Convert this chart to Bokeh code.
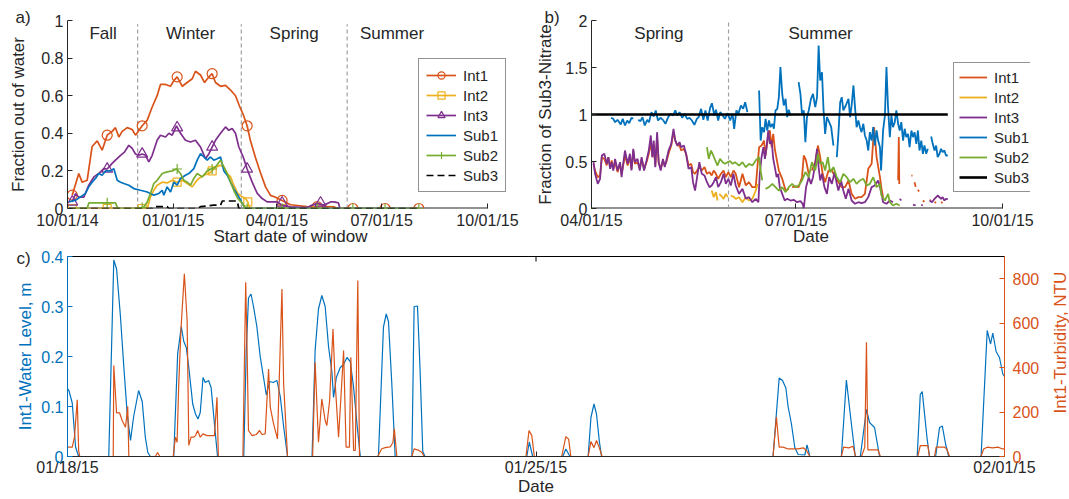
import math
import numpy as np
import pandas as pd
from bokeh.plotting import figure
from bokeh.models import (Range1d, LinearAxis, FixedTicker,
                          DatetimeTickFormatter, Legend, LegendItem, Label)
from bokeh.layouts import column, row
from bokeh.embed import file_html
from bokeh.resources import INLINE

NaN = float("nan")
FONT = "Liberation Sans"
TXT = "#262626"
C_INT1, C_INT2, C_INT3 = "#D95319", "#EDB120", "#7E2F8E"
C_SUB1, C_SUB2, C_SUB3 = "#0072BD", "#77AC30", "#000000"

# ---------------- Panel a: (days since 2014-10-01, fraction out of water)
a_int1 = [(4.1, 0.071), (9.8, 0.186), (12.7, 0.14), (17.1, 0.15), (21.4, 0.33), (25.8, 0.36), (30.1, 0.31),
          (34.5, 0.39), (38.8, 0.41), (41.7, 0.43), (44.6, 0.38), (47.5, 0.41), (51.9, 0.43), (56.2, 0.42),
          (59.1, 0.39), (64.9, 0.44), (69.3, 0.47), (73.6, 0.54), (77.9, 0.60), (80.8, 0.66), (85.2, 0.66),
          (89.5, 0.65), (92.4, 0.68), (95.3, 0.70), (99.7, 0.65), (104.0, 0.67), (108.4, 0.69), (111.2, 0.73),
          (115.6, 0.71), (119.1, 0.67), (122.8, 0.70), (125.7, 0.717), (128.6, 0.67), (133.0, 0.65),
          (137.3, 0.655), (141.7, 0.63), (146.0, 0.60), (149.8, 0.54), (152.7, 0.50), (156.1, 0.44),
          (159.0, 0.36), (163.4, 0.27), (167.7, 0.19), (172.1, 0.115), (176.4, 0.07), (180.8, 0.06),
          (186.5, 0.043), (193.8, 0.02), (199.6, 0.016), (208.0, 0.01), (214.1, 0.008), (219.9, 0.012),
          (231.5, 0.009), (234.3, 0.0), (305.3, 0.0)]
a_int1_mk = [(4.1, 0.071), (34.5, 0.39), (64.9, 0.44), (95.3, 0.70), (125.7, 0.717), (156.1, 0.44),
             (186.5, 0.043), (217.0, 0.01), (248.0, 0.0), (276.0, 0.0), (305.3, 0.0)]
a_int2 = [(4.1, 0), (69.3, 0), (72.1, 0.062), (75.0, 0.097), (77.9, 0.124), (82.3, 0.14), (86.6, 0.136),
          (91.0, 0.15), (95.3, 0.14), (99.7, 0.15), (104.0, 0.133), (108.4, 0.115), (111.2, 0.14), (114.1, 0.16),
          (118.5, 0.177), (122.8, 0.186), (125.7, 0.20), (128.6, 0.22), (133.0, 0.23), (135.9, 0.22),
          (138.8, 0.186), (141.7, 0.168), (144.5, 0.124), (148.0, 0.08), (151.8, 0.062), (154.7, 0.053),
          (156.7, 0.035), (158.4, 0), (217.0, 0)]
a_int2_mk = [(4.1, 0), (34.5, 0), (64.9, 0), (95.3, 0.14), (125.7, 0.20), (156.7, 0.035), (186.5, 0), (217.0, 0)]
a_int3 = [(4.1, 0.035), (7.0, 0.08), (9.8, 0.06), (14.2, 0.06), (18.5, 0.124), (22.9, 0.168), (27.2, 0.186),
          (31.5, 0.212), (34.5, 0.21), (38.8, 0.24), (41.7, 0.257), (46.1, 0.283), (49.5, 0.30), (53.3, 0.336),
          (56.2, 0.32), (59.1, 0.29), (62.0, 0.283), (64.9, 0.29), (67.8, 0.283), (70.7, 0.248), (73.6, 0.283),
          (77.9, 0.363), (80.8, 0.39), (85.2, 0.38), (88.1, 0.40), (91.0, 0.39), (94.7, 0.44), (98.2, 0.40),
          (102.5, 0.363), (106.9, 0.354), (111.2, 0.363), (115.6, 0.327), (119.9, 0.265), (122.8, 0.29),
          (125.7, 0.327), (128.6, 0.363), (133.0, 0.40), (137.3, 0.434), (140.2, 0.416), (143.1, 0.425),
          (146.0, 0.40), (148.9, 0.327), (152.7, 0.274), (156.1, 0.21), (160.5, 0.14), (164.9, 0.08),
          (169.2, 0.053), (173.5, 0.035), (182.2, 0.035), (186.5, 0.018), (193.8, 0.009), (208.3, 0.005),
          (212.6, 0.018), (217.0, 0.027), (222.8, 0.018), (228.6, 0.035), (231.5, 0.035), (235.5, 0.03),
          (236.7, 0.0)]
a_int3_mk = [(4.1, 0.035), (34.5, 0.21), (64.9, 0.29), (95.3, 0.43), (125.7, 0.327), (156.1, 0.21),
             (186.5, 0.03), (219.9, 0.03)]
a_sub1 = [(1.2, 0.035), (7.0, 0.044), (11.3, 0.062), (15.6, 0.08), (18.5, 0.115), (21.4, 0.14), (24.3, 0.16),
          (27.2, 0.186), (30.1, 0.177), (33.0, 0.20), (37.4, 0.20), (40.3, 0.212), (43.2, 0.15), (46.1, 0.14),
          (49.0, 0.133), (53.3, 0.124), (57.6, 0.106), (63.4, 0.097), (69.3, 0.088), (75.0, 0.071), (79.4, 0.08),
          (82.3, 0.097), (83.7, 0.071), (86.6, 0.115), (89.5, 0.088), (92.4, 0.14), (95.3, 0.124), (98.2, 0.16),
          (102.5, 0.177), (105.4, 0.186), (109.8, 0.212), (112.7, 0.257), (115.6, 0.292), (118.5, 0.274),
          (121.4, 0.257), (124.3, 0.274), (127.1, 0.257), (130.1, 0.265), (133.0, 0.274), (135.9, 0.20),
          (138.8, 0.177), (141.7, 0.14), (144.5, 0.106), (148.9, 0.062), (151.8, 0.027), (154.7, 0.0),
          (305.3, 0.0)]
a_sub2 = [(1.2, 0), (17.1, 0), (18.5, 0.03), (41.7, 0.03), (43.7, 0), (63.4, 0), (66.3, 0.009), (69.3, 0.035),
          (72.1, 0.08), (75.0, 0.133), (77.9, 0.15), (82.3, 0.186), (86.6, 0.195), (91.0, 0.20), (94.7, 0.21),
          (98.2, 0.186), (101.1, 0.15), (104.0, 0.14), (106.9, 0.124), (109.8, 0.16), (112.7, 0.186),
          (117.1, 0.168), (121.4, 0.20), (124.9, 0.21), (128.6, 0.221), (133.0, 0.257), (135.9, 0.221),
          (138.8, 0.186), (141.7, 0.14), (144.5, 0.097), (148.0, 0.053), (151.8, 0.027), (154.7, 0), (305.3, 0)]
a_sub2_mk = [(34.5, 0.03), (64.9, 0.005), (95.3, 0.21), (125.7, 0.21), (156.1, 0), (186.5, 0), (217.0, 0),
             (248.0, 0), (276.0, 0), (305.3, 0)]
a_sub3 = [(1.2, 0), (73.6, 0), (75.0, 0.01), (86.6, 0.01), (88.1, 0), (113.0, 0), (115.6, 0.01), (127.1, 0.018),
          (133.0, 0.018), (134.5, 0.04), (147.5, 0.04), (148.9, 0), (305.3, 0)]
a_seasons = ["Fall", "Winter", "Spring", "Summer"]
a_season_mid = ["2014-11-01", "2015-01-16", "2015-04-16", "2015-07-10"]
a_season_bounds = ["2014-12-01", "2015-03-01", "2015-06-01"]
a_xticks = ["2014-10-01", "2015-01-01", "2015-04-01", "2015-07-01", "2015-10-01"]
a_yticks = [0, 0.2, 0.4, 0.6, 0.8, 1]
a_ylabels = ["0", "0.2", "0.4", "0.6", "0.8", "1"]
a_view_end = "2015-10-23 14:00"      # room on the right for the legend

# ---------------- Panel b: (days since 2015-04-01, fraction of Sub3 nitrate)
b_int1 = [(0.9, 0.475), (1.6, 0.40), (2.8, 0.333), (3.8, 0.351), (4.6, 0.546), (5.7, 0.528), (6.8, 0.458),
          (7.5, 0.546), (8.3, 0.44), (9.0, 0.511), (9.7, 0.422), (10.5, 0.493), (11.6, 0.387), (12.7, 0.475),
          (13.4, 0.369), (14.1, 0.458), (14.9, 0.564), (16.1, 0.458), (17.1, 0.546), (17.8, 0.422), (18.6, 0.617),
          (19.3, 0.475), (20.5, 0.493), (21.5, 0.422), (22.3, 0.528), (23.4, 0.422), (24.5, 0.493), (25.5, 0.582),
          (26.4, 0.706), (27.1, 0.546), (27.7, 0.67), (28.4, 0.458), (29.2, 0.759), (29.9, 0.493), (30.8, 0.422),
          (31.8, 0.511), (32.6, 0.458), (33.3, 0.493), (34.3, 0.582), (35.5, 0.67), (36.5, 0.812), (37.3, 0.723),
          (38.2, 0.67), (39.2, 0.67), (39.9, 0.617), (41.1, 0.635), (42.1, 0.582), (43.2, 0.458), (44.4, 0.475),
          (45.2, 0.387), (46.1, 0.369), (47.0, 0.404), (48.0, 0.44), (49.1, 0.404), (50.3, 0.44), (51.4, 0.369),
          (52.5, 0.387), (53.5, 0.351), (54.4, 0.404), (55.4, 0.369), (56.4, 0.316), (57.6, 0.369), (58.8, 0.404),
          (59.8, 0.333), (60.9, 0.387), (62.0, 0.333), (63.2, 0.404), (64.2, 0.369), (65.7, 0.227), (67.2, 0.369),
          (68.7, 0.245), (70.1, 0.28), (71.6, 0.227), (73.1, 0.227), (74.6, 0.652), (75.7, 0.67), (76.8, 0.723),
          (77.5, 0.564), (78.7, 0.794), (79.4, 0.83), (80.2, 0.652), (80.9, 0.794), (81.6, 0.635), (82.4, 0.528),
          (83.4, 0.404), (84.9, 0.316), (86.4, 0.191), (87.8, 0.209), (88.5, NaN), (89.3, 0.227), (90.8, 0.234),
          (92.2, 0.227), (93.7, 0.333), (94.5, 0.564), (95.5, 0.511), (96.7, 0.369), (97.4, NaN), (98.1, 0.404),
          (99.6, 0.493), (100.8, 0.67), (101.8, 0.546), (102.9, 0.369), (104.0, 0.28), (105.5, 0.404),
          (107.0, 0.404), (108.5, 0.333), (109.9, 0.28), (111.4, 0.227), (112.9, 0.227), (114.4, 0.298),
          (115.8, 0.156), (117.3, 0.103), (118.8, 0.121), (120.2, 0.121), (121.7, 0.156), (123.2, 0.422),
          (124.7, 0.475), (125.8, 0.865), (126.9, 0.546), (128.4, 0.333), (129.1, 0.209), (129.8, 0.121),
          (130.5, NaN), (136.5, 0.30), (136.8, 0.76), (137.0, 0.26), (137.3, NaN), (142.4, 0.351), (142.9, 0.35),
          (143.3, NaN), (143.8, 0.28), (144.3, 0.23), (144.8, NaN), (145.3, 0.2), (145.8, 0.18), (146.3, NaN),
          (147.5, 0.085), (148.2, 0.07), (148.7, NaN), (150.5, 0.085), (151.2, 0.09), (151.7, NaN),
          (152.7, 0.06), (153.4, 0.07), (154.0, NaN), (155.6, 0.06), (156.3, 0.07)]
b_int2 = [(53.5, 0.191), (54.4, 0.121), (55.4, 0.174), (56.1, 0.085), (56.5, NaN), (56.9, 0.156), (57.6, 0.138),
          (58.8, 0.103), (59.8, 0.156), (60.6, 0.121), (61.2, NaN), (62.0, 0.138), (63.5, 0.121), (64.2, 0.103),
          (65.7, 0.12), (67.2, 0.067), (68.7, 0.12), (70.1, 0.085), (71.6, 0.103), (73.1, 0.191), (74.0, 0.262)]
b_int3 = [(0.9, 0.493), (1.6, 0.369), (2.8, 0.262), (3.8, 0.316), (4.6, 0.564), (5.7, 0.582), (6.8, 0.475),
          (7.5, 0.546), (8.3, 0.422), (9.0, 0.493), (9.7, 0.404), (10.5, 0.528), (11.6, 0.404), (12.7, 0.493),
          (13.4, 0.333), (14.1, 0.475), (14.9, 0.617), (16.1, 0.475), (17.1, 0.582), (17.8, 0.404), (18.6, 0.635),
          (19.3, 0.493), (20.5, 0.528), (21.5, 0.404), (22.3, 0.546), (23.4, 0.404), (24.5, 0.511), (25.5, 0.617),
          (26.4, 0.777), (27.1, 0.546), (27.7, 0.723), (28.4, 0.44), (29.2, 0.812), (29.9, 0.493), (30.8, 0.404),
          (31.8, 0.528), (32.6, 0.44), (33.3, 0.511), (34.3, 0.617), (35.5, 0.688), (36.5, 0.848), (37.3, 0.723),
          (38.2, 0.67), (39.2, 0.706), (39.9, 0.652), (41.1, 0.67), (42.1, 0.582), (43.2, 0.422), (44.4, 0.44),
          (45.2, 0.28), (46.1, 0.191), (47.0, 0.333), (48.0, 0.493), (49.1, 0.369), (50.3, 0.351), (51.4, 0.28),
          (52.5, 0.227), (53.5, 0.245), (54.4, 0.28), (55.4, 0.333), (56.4, 0.227), (57.6, 0.28), (58.8, 0.369),
          (59.8, 0.262), (60.9, 0.316), (62.0, 0.245), (63.2, 0.369), (64.2, 0.245), (65.7, 0.156), (67.2, 0.209),
          (68.7, 0.103), (70.1, 0.121), (71.6, 0.067), (73.1, 0.103), (74.3, 0.067), (74.9, 0.369), (75.7, 0.546),
          (76.5, 0.652), (77.2, 0.528), (78.0, 0.67), (78.7, 0.83), (79.4, 0.688), (80.2, 0.723), (80.9, 0.528),
          (81.6, 0.44), (82.4, 0.333), (83.1, 0.369), (83.8, 0.227), (84.9, 0.156), (86.0, 0.085), (87.1, 0.103),
          (88.6, 0.085), (90.0, 0.092), (91.5, 0.067), (93.0, 0.078), (94.0, 0.05), (94.5, 0.0), (95.5, 0.227),
          (96.7, 0.333), (97.7, 0.262), (98.6, 0.333), (99.6, 0.475), (100.4, 0.635), (101.1, 0.44),
          (101.8, 0.298), (102.6, 0.369), (103.7, 0.227), (104.8, 0.156), (105.8, 0.333), (107.0, 0.262),
          (108.2, 0.387), (109.2, 0.262), (109.9, 0.191), (111.1, 0.298), (112.1, 0.191), (113.2, 0.103),
          (114.4, 0.209), (115.8, 0.085), (117.3, 0.05), (118.8, 0.067), (120.2, 0.057), (121.7, 0.067),
          (123.2, 0.121), (124.7, 0.227), (126.1, 0.245), (127.6, 0.298), (128.4, 0.227), (129.1, 0.156),
          (129.8, 0.067), (131.3, 0.05), (132.8, 0.085), (134.2, 0.067), (135.5, NaN), (137.2, 0.103),
          (137.9, 0.085), (140.0, NaN), (143.1, 0.04), (144.3, 0.032), (145.5, NaN), (146.8, 0.04), (147.5, 0.032),
          (149.0, NaN), (150.5, 0.085), (151.6, 0.067), (152.7, 0.103), (154.1, 0.138), (154.9, 0.12),
          (155.6, 0.103), (156.3, 0.12), (157.1, 0.085), (157.8, 0.103), (158.6, 0.1)]
b_sub1 = [(8.7, 0.965), (9.7, 0.954), (10.5, 0.918), (11.6, 0.943), (13.0, 0.894), (13.9, 0.954), (14.9, 0.883),
          (15.9, 0.936), (16.8, 0.908), (17.8, 0.965), (18.6, 0.954), (19.7, NaN), (20.8, 0.943), (21.8, 0.929),
          (22.7, 0.972), (23.7, 0.883), (24.8, 0.943), (25.6, 0.918), (26.7, 1.025), (27.7, 0.979), (28.6, 1.043),
          (29.6, 0.936), (30.7, 0.965), (31.8, 0.943), (32.9, 0.901), (34.0, 0.965), (35.1, 1.007), (36.3, 0.989),
          (37.3, 1.043), (38.2, 0.989), (39.2, 1.025), (40.4, 0.965), (41.4, 1.007), (42.6, 0.954), (43.6, 0.965),
          (44.7, 0.936), (45.8, 0.890), (46.9, 0.954), (47.7, 0.972), (48.8, 1.06), (49.8, 0.943), (50.7, 1.043),
          (51.7, 0.936), (52.8, 1.071), (53.6, 1.12), (54.7, 0.989), (55.4, 1.05), (56.4, 0.936), (57.3, 1.025),
          (58.4, 0.989), (59.4, 0.954), (60.6, 1.014), (61.7, 0.936), (62.8, 1.007), (63.5, 0.848), (64.5, 1.043),
          (65.4, 1.007), (66.5, 1.096), (67.5, 1.06), (68.4, 1.131), (69.4, 1.025), (72.0, NaN), (74.6, 1.255),
          (75.3, 0.723), (76.0, 0.865), (76.8, 0.812), (77.5, 0.954), (78.2, 0.83), (79.0, 0.936), (79.7, 0.865),
          (80.5, 0.901), (81.2, 0.848), (81.9, 1.043), (82.7, 1.06), (83.4, 1.184), (84.1, 1.504), (84.9, 1.22),
          (85.6, 1.096), (86.4, 1.167), (87.1, 0.972), (87.8, 1.05), (88.6, 0.989), (90.4, NaN), (92.2, 1.344),
          (93.0, 1.22), (93.7, 1.007), (94.5, 1.043), (95.2, 0.705), (95.9, 0.972), (96.7, 1.043), (97.7, 1.167),
          (98.6, 1.22), (99.6, 1.078), (100.4, 1.184), (101.1, 1.734), (101.8, 1.362), (102.6, 1.45),
          (103.3, 1.043), (104.0, 0.794), (104.8, 0.972), (105.8, 0.918), (106.7, 0.865), (107.7, 0.67),
          (108.5, NaN), (109.2, 0.546), (109.9, 0.794), (110.7, 1.131), (111.4, 1.184), (112.1, 1.043),
          (113.2, 1.096), (114.4, 1.167), (115.1, 0.972), (115.8, 1.096), (116.6, 1.309), (117.3, 1.078),
          (118.0, 0.865), (118.8, 0.936), (119.5, 0.865), (120.2, 0.812), (121.0, 0.901), (121.7, 0.777),
          (122.5, 0.723), (123.2, 0.617), (123.9, 0.812), (124.7, 0.723), (125.4, 0.865), (126.1, 0.670),
          (126.9, 0.83), (127.6, 0.723), (128.4, 0.652), (128.9, 0.404), (129.8, 0.83), (130.6, 0.989),
          (131.3, 1.504), (132.0, 1.078), (132.8, 0.759), (133.5, 0.989), (134.2, 0.865), (135.0, 0.918),
          (135.7, 1.043), (136.5, 0.901), (137.2, 0.83), (137.9, 0.918), (138.7, 0.723), (139.4, 0.848),
          (140.1, 0.759), (140.9, 0.794), (141.6, 0.652), (142.4, 0.83), (143.1, 0.759), (143.8, 0.812),
          (144.6, 0.688), (145.3, 0.83), (146.0, 0.617), (146.8, 0.723), (147.5, 0.582), (148.2, 0.67),
          (149.0, 0.582), (149.7, 0.635), (150.5, NaN), (151.2, 0.766), (151.9, 0.688), (152.7, 0.617),
          (153.4, 0.67), (154.1, 0.546), (154.9, 0.582), (155.6, 0.635), (156.3, 0.6), (157.1, 0.617),
          (157.8, 0.564), (158.6, 0.564)]
b_sub2 = [(51.4, 0.652), (52.2, 0.528), (53.2, 0.617), (54.2, 0.564), (55.1, 0.511), (56.1, 0.457), (57.2, 0.528),
          (58.4, 0.493), (59.4, 0.475), (60.6, 0.493), (61.7, 0.504), (62.8, 0.475), (63.8, 0.493), (65.7, 0.457),
          (67.2, 0.493), (68.7, 0.44), (70.1, 0.475), (71.6, 0.457), (73.1, 0.511), (74.6, 0.546), (75.3, 0.404),
          (76.0, 0.30), (76.7, NaN), (77.5, 0.209), (79.0, 0.227), (80.5, 0.262), (81.9, 0.227), (83.4, 0.191),
          (84.9, 0.227), (86.4, 0.174), (87.8, 0.227), (89.3, 0.262), (90.8, 0.227), (92.2, 0.245), (93.7, 0.298),
          (95.2, 0.387), (96.7, 0.333), (98.1, 0.493), (99.6, 0.404), (100.8, 0.582), (101.8, 0.475),
          (102.9, 0.493), (104.0, 0.404), (105.2, 0.546), (106.2, 0.387), (107.7, 0.44), (109.2, 0.333),
          (110.7, 0.28), (112.1, 0.369), (113.6, 0.333), (115.1, 0.28), (116.6, 0.316), (118.0, 0.262),
          (119.5, 0.298), (121.0, 0.316), (122.5, 0.245), (123.9, 0.262), (125.4, 0.333), (126.9, 0.227),
          (128.4, 0.262), (129.1, 0.138), (130.6, 0.085), (132.0, 0.156), (132.8, 0.067), (134.2, 0.032),
          (135.7, 0.05), (137.2, 0.032)]
b_sub3 = [(0.0, 1.0), (158.6, 1.0)]
b_seasons = ["Spring", "Summer"]
b_season_mid = ["2015-05-01", "2015-07-12"]
b_season_bounds = ["2015-06-01"]
b_xticks = ["2015-04-01", "2015-07-01", "2015-10-01"]
b_yticks = [0, 0.5, 1, 1.5, 2]
b_ylabels = ["0", "0.5", "1", "1.5", "2"]
b_view_end = "2015-10-13 10:00"      # room on the right for the legend

# ---------------- Panel c: (hours since 2015-01-18 00:00, value)
c_level = [(0, 0.135), (0.5, 0.132), (1.7, 0.107), (2.9, 0.019), (4.0, 0),
           (14.8, 0), (16.6, 0.393), (17.6, 0.375), (19.0, 0.279), (20.2, 0.179), (21.4, 0.086), (22.6, 0.032),
           (23.7, 0.079), (25.5, 0.132), (26.8, 0.11), (27.9, 0.039), (28.8, 0.008), (29.7, 0),
           (38.1, 0), (39.5, 0.205), (40.8, 0.26), (41.7, 0.23), (42.6, 0.218), (43.5, 0.178), (44.9, 0.105),
           (45.9, 0.085), (46.8, 0.075), (47.6, 0.088), (48.6, 0.158), (49.4, 0.148), (50.6, 0.152), (51.5, 0.138),
           (52.7, 0.065), (53.8, 0),
           (63.2, 0), (64.1, 0.212), (64.9, 0.317), (65.8, 0.325), (66.7, 0.30), (67.9, 0.26), (69.1, 0.2),
           (70.3, 0.158), (71.3, 0.123), (72.5, 0.15), (73.7, 0.148), (75.1, 0.152), (76.3, 0.12), (77.5, 0.06),
           (78.9, 0),
           (87.7, 0), (88.8, 0.212), (90.0, 0.295), (91.2, 0.322), (92.4, 0.3), (93.6, 0.22), (94.8, 0.17),
           (95.4, 0.118), (96.4, 0.158), (97.8, 0.178), (99.0, 0.184), (100.2, 0.198), (101.4, 0.19),
           (102.6, 0.138), (103.8, 0.065), (105.0, 0),
           (111.5, 0), (113.3, 0.259), (114.3, 0.285), (115.1, 0.27), (116.3, 0.145), (117.5, 0),
           (123.5, 0), (124.3, 0.3), (125.5, 0.301), (126.4, 0.178), (127.4, 0.01), (128.2, 0),
           (164.7, 0), (165.6, 0.029), (166.8, 0),
           (177.6, 0), (178.7, 0.015), (180.2, 0),
           (186.7, 0), (187.7, 0.078), (188.8, 0.105), (189.7, 0.085), (190.7, 0.031), (191.5, 0),
           (253.0, 0), (255.2, 0.157), (256.4, 0.152), (257.6, 0.137), (258.4, 0.1), (259.6, 0.065),
           (260.8, 0.018), (262.0, 0.004), (264.4, 0.003), (265.2, 0.023), (266.2, 0),
           (277.5, 0), (279.3, 0.153), (281.1, 0.065), (282.5, 0),
           (284.3, 0), (286.5, 0.094), (287.6, 0.068), (289.4, 0.058), (291.2, 0),
           (304.7, 0), (305.8, 0.124), (306.5, 0.13), (308.2, 0.038), (309.1, 0),
           (311.3, 0), (312.7, 0.058), (313.7, 0.061), (314.9, 0.024), (316.0, 0),
           (327.6, 0), (329.8, 0.252), (331.0, 0.225), (331.8, 0.247), (333.0, 0.21), (334.2, 0.198),
           (335.4, 0.165), (336.0, 0.16)]
c_turbidity = [(0, 42), (0.5, 42), (1.7, 42), (2.5, 87), (3.5, 255), (4.0, 27), (4.4, 0),
               (16.4, 0), (16.6, 409), (17.6, 196), (18.7, 196), (19.6, 162), (20.8, 132), (21.6, 225), (22.0, 0),
               (31.5, 0), (32.3, 18), (33.1, 0),
               (37.9, 0), (38.7, 87), (39.3, 64), (39.9, 327), (40.7, 574), (41.9, 822), (42.9, 612), (43.5, 50),
               (44.3, 87), (45.2, 87), (45.9, 94), (46.7, 117), (47.6, 87), (48.6, 102), (50.0, 94), (51.2, 94),
               (52.7, 94), (53.6, 267), (54.1, 0),
               (62.9, 0), (63.9, 784), (64.4, 477), (64.9, 117), (66.2, 94), (67.7, 99), (68.9, 117), (69.7, 99),
               (70.9, 102), (72.1, 394), (72.7, 222), (73.9, 147), (75.3, 79), (76.9, 754), (77.5, 327), (78.9, 0),
               (87.9, 0), (88.8, 424), (90.0, 64), (91.2, 259), (92.4, 162), (93.0, 139), (94.0, 252), (95.2, 574),
               (96.0, 327), (97.2, 87), (98.4, 342), (99.0, 477), (99.9, 42), (101.1, 42), (101.6, 447),
               (102.6, 27), (103.2, 27), (104.1, 792), (104.7, 0),
               (111.2, 0), (112.7, 35), (113.9, 40), (115.7, 43), (116.7, 63), (117.2, 125), (118.1, 0),
               (123.5, 0), (124.3, 34), (125.8, 29), (127.1, 18), (127.9, 0),
               (164.4, 0), (165.5, 117), (166.5, 94), (167.4, 0),
               (177.2, 0), (178.7, 89), (179.7, 78), (180.5, 0),
               (186.7, 0), (187.7, 67), (188.8, 40), (189.7, 72), (190.7, 40), (191.7, 0),
               (253.0, 0), (254.2, 177), (255.2, 42), (256.6, 42), (258.4, 34), (260.2, 34), (262.0, 34),
               (263.8, 39), (265.0, 27), (266.2, 0),
               (277.5, 0), (278.3, 42), (280.2, 39), (281.7, 46), (282.6, 0),
               (284.7, 0), (285.9, 42), (286.5, 514), (287.0, 30), (290.6, 30), (291.5, 0),
               (304.9, 0), (305.8, 49), (308.5, 49), (309.1, 0),
               (310.9, 0), (311.5, 42), (314.5, 42), (315.3, 34), (316.3, 0),
               (327.6, 0), (328.5, 34), (329.8, 42), (331.8, 39), (333.6, 42), (335.4, 34), (336.0, 34)]
c_xticks = ["2015-01-18", "2015-01-25", "2015-02-01"]
c_lticks = [0, 0.1, 0.2, 0.3, 0.4]
c_llabels = ["0", "0.1", "0.2", "0.3", "0.4"]
c_rticks = [0, 200, 400, 600, 800]
c_rlabel = "Int1-Turbidity, NTU"


# ---------------- helpers
def ms(s):
    return pd.Timestamp(s).value / 1e6


def series(pairs, base, unit="D"):
    t = np.array([p[0] for p in pairs], dtype=float)
    v = np.array([p[1] for p in pairs], dtype=float)
    x = (pd.Timestamp(base) + pd.to_timedelta(t, unit=unit)).values
    return x, v


def date_fmt():
    f = "%m/%d/%y"
    return DatetimeTickFormatter(hours=f, days=f, months=f, years=f, hourmin=f, minutes=f)


def style(ax, color=TXT, label_standoff=5):
    ax.major_label_text_font = FONT
    ax.major_label_text_font_size = "16px"
    ax.major_label_text_color = color
    ax.axis_label_text_font = FONT
    ax.axis_label_text_font_size = "17px"
    ax.axis_label_text_font_style = "normal"
    ax.axis_label_text_color = color
    ax.axis_line_color = color
    ax.axis_line_width = 1
    ax.major_tick_line_color = color
    ax.minor_tick_line_color = None
    ax.major_tick_in = 5
    ax.major_tick_out = 0
    ax.major_label_standoff = 3
    ax.axis_label_standoff = label_standoff


def txt(p, x, y, s, size="17px", align="center"):
    p.add_layout(Label(x=x, y=y, text=s, text_font=FONT, text_font_size=size,
                       text_color=TXT, text_align=align, text_baseline="middle"))


def panel_title(p, s, offset, standoff):
    p.title.text = s
    p.title.align = "left"
    p.title.vertical_align = "bottom"
    p.title.offset = offset
    p.title.standoff = standoff
    p.title.text_font = FONT
    p.title.text_font_size = "17px"
    p.title.text_font_style = "normal"
    p.title.text_color = TXT


def make_legend(items, loc, pad, gw, stand):
    return Legend(items=items, location=loc, margin=0, padding=pad, spacing=2, label_height=18, glyph_height=18,
                  glyph_width=gw, label_standoff=stand, label_text_font=FONT, label_text_font_size="15px",
                  label_text_color=TXT, border_line_color=TXT, border_line_width=1, background_fill_alpha=1)


# ---------------- Panel a
pa = figure(width=533, height=248, x_axis_type="datetime",
            x_range=Range1d(ms("2014-10-01"), ms(a_view_end)), y_range=Range1d(0, 1),
            output_backend="svg", toolbar_location=None,
            min_border_left=67, min_border_right=20, min_border_top=20, min_border_bottom=40)
pa.outline_line_color = None
pa.grid.visible = False
pa.xaxis.ticker = FixedTicker(ticks=[ms(s) for s in a_xticks])
pa.xaxis.formatter = date_fmt()
pa.xaxis.axis_label = "Start date of window"
pa.yaxis.ticker = FixedTicker(ticks=a_yticks)
pa.yaxis.major_label_overrides = dict(zip(a_yticks, a_ylabels))
pa.yaxis.axis_label = "Fraction out of water"
style(pa.xaxis[0], label_standoff=-5)
style(pa.yaxis[0], label_standoff=10)
pa.yaxis.major_label_standoff = 4
pa.xaxis.axis_line_color = None
pa.line(x=[pd.Timestamp(a_xticks[0]), pd.Timestamp(a_xticks[-1])], y=[0, 0], line_color=TXT, line_width=2)
panel_title(pa, "a)", -52, -12)

for b in a_season_bounds:
    pa.line(x=[pd.Timestamp(b)] * 2, y=[0, 0.98], line_color="#8c8c8c", line_dash="4 3", line_width=1)
for s, m in zip(a_seasons, a_season_mid):
    txt(pa, ms(m), 0.93, s)

xa, ya = series(a_int1, "2014-10-01")
l1 = pa.line(xa, ya, line_color=C_INT1, line_width=1.7)
xa, ya = series(a_int1_mk, "2014-10-01")
m1 = pa.scatter(xa, ya, marker="circle", size=10, line_color=C_INT1, fill_color=None, line_width=1.2)
xa, ya = series(a_int2, "2014-10-01")
l2 = pa.line(xa, ya, line_color=C_INT2, line_width=1.7)
xa, ya = series(a_int2_mk, "2014-10-01")
m2 = pa.scatter(xa, ya, marker="square", size=8, line_color=C_INT2, fill_color=None, line_width=1.2)
xa, ya = series(a_int3, "2014-10-01")
l3 = pa.line(xa, ya, line_color=C_INT3, line_width=1.7)
xa, ya = series(a_int3_mk, "2014-10-01")
m3 = pa.scatter(xa, ya, marker="triangle", size=11, line_color=C_INT3, fill_color=None, line_width=1.2)
xa, ya = series(a_sub1, "2014-10-01")
l4 = pa.line(xa, ya, line_color=C_SUB1, line_width=1.7)
xa, ya = series(a_sub2, "2014-10-01")
l5 = pa.line(xa, ya, line_color=C_SUB2, line_width=1.7)
xa, ya = series(a_sub2_mk, "2014-10-01")
m5 = pa.scatter(xa, ya, marker="cross", size=10, line_color=C_SUB2, line_width=1.2)
xa, ya = series(a_sub3, "2014-10-01")
l6 = pa.line(xa, ya, line_color=C_SUB3, line_width=1.7, line_dash="7 4")

pa.add_layout(make_legend([LegendItem(label="Int1", renderers=[l1, m1]),
                           LegendItem(label="Int2", renderers=[l2, m2]),
                           LegendItem(label="Int3", renderers=[l3, m3]),
                           LegendItem(label="Sub1", renderers=[l4]),
                           LegendItem(label="Sub2", renderers=[l5, m5]),
                           LegendItem(label="Sub3", renderers=[l6])], (351, 16), 7, 30, 7))

# ---------------- Panel b
pb = figure(width=536, height=248, x_axis_type="datetime",
            x_range=Range1d(ms("2015-04-01"), ms(b_view_end)), y_range=Range1d(0, 2),
            output_backend="svg", toolbar_location=None,
            min_border_left=55, min_border_right=39, min_border_top=20, min_border_bottom=40)
pb.outline_line_color = None
pb.grid.visible = False
pb.xaxis.ticker = FixedTicker(ticks=[ms(s) for s in b_xticks])
pb.xaxis.formatter = date_fmt()
pb.xaxis.axis_label = "Date"
pb.yaxis.ticker = FixedTicker(ticks=b_yticks)
pb.yaxis.major_label_overrides = dict(zip(b_yticks, b_ylabels))
pb.yaxis.axis_label = "Fraction of Sub3-Nitrate"
style(pb.xaxis[0], label_standoff=-5)
style(pb.yaxis[0], label_standoff=7)
pb.yaxis.major_label_standoff = 4
pb.xaxis.axis_line_color = None
pb.line(x=[pd.Timestamp(b_xticks[0]), pd.Timestamp(b_xticks[-1])], y=[0, 0], line_color=TXT, line_width=2)
panel_title(pb, "b)", -47, -12)

for b in b_season_bounds:
    pb.line(x=[pd.Timestamp(b)] * 2, y=[0, 2], line_color="#a0a0a0", line_dash="4 3", line_width=1.2)
for s, m in zip(b_seasons, b_season_mid):
    txt(pb, ms(m), 1.86, s)

rs = []
for data, col, w in [(b_int1, C_INT1, 1.8), (b_int2, C_INT2, 1.8), (b_int3, C_INT3, 1.8),
                     (b_sub1, C_SUB1, 1.8), (b_sub2, C_SUB2, 1.8), (b_sub3, C_SUB3, 2.6)]:
    xb, yb = series(data, "2015-04-01")
    rs.append(pb.line(xb, yb, line_color=col, line_width=w))
pb.add_layout(make_legend([LegendItem(label=n, renderers=[r]) for n, r in
                           zip(["Int1", "Int2", "Int3", "Sub1", "Sub2", "Sub3"], rs)], (362, 16), 5, 28, 7))

# ---------------- Panel c
pc = figure(width=1050, height=251, x_axis_type="datetime",
            x_range=Range1d(ms(c_xticks[0]), ms(c_xticks[-1])), y_range=Range1d(0, 0.4),
            output_backend="svg", toolbar_location=None,
            min_border_left=67, min_border_right=46, min_border_top=8, min_border_bottom=43)
pc.outline_line_color = "#000000"
pc.outline_line_width = 1
pc.grid.visible = False
pc.extra_y_ranges = {"turb": Range1d(0, 900)}
pc.xaxis.ticker = FixedTicker(ticks=[ms(s) for s in c_xticks])
pc.xaxis.formatter = date_fmt()
pc.xaxis.axis_label = "Date"
style(pc.xaxis[0], label_standoff=-2)
pc.xaxis.major_label_standoff = 2
pc.yaxis.ticker = FixedTicker(ticks=c_lticks)
pc.yaxis.major_label_overrides = dict(zip(c_lticks, c_llabels))
pc.yaxis.axis_label = "Int1-Water Level, m"
style(pc.yaxis[0], color=C_SUB1, label_standoff=3)
pc.yaxis.major_label_standoff = 4
panel_title(pc, "c)", -51, -22)

rax = LinearAxis(y_range_name="turb", ticker=FixedTicker(ticks=c_rticks))
style(rax, color=C_INT1)
rax.major_label_standoff = 8
pc.add_layout(rax, "right")

# inward tick on the top border at the middle date tick
pc.scatter(x=[pd.Timestamp(c_xticks[1])], y=[0.4], marker="dash", angle=math.pi / 2, size=10,
           line_color="#000000", line_width=1)

xc, yc = series(c_level, "2015-01-18", unit="h")
pc.line(xc, yc, line_color=C_SUB1, line_width=1.2)
xc, yc = series(c_turbidity, "2015-01-18", unit="h")
pc.line(xc, yc, line_color=C_INT1, line_width=1.2, y_range_name="turb")

# narrow strip on the right carrying the rotated right-axis title (reads bottom to top)
pr = figure(width=19, height=251, x_range=Range1d(0, 19), y_range=Range1d(0, 251),
            output_backend="svg", toolbar_location=None, x_axis_location=None, y_axis_location=None,
            min_border_left=0, min_border_right=0, min_border_top=0, min_border_bottom=0)
pr.outline_line_color = None
pr.grid.visible = False
pr.add_layout(Label(x=9.5, y=143, text=c_rlabel, angle=math.pi / 2, text_font=FONT, text_font_size="17px",
                    text_color=C_INT1, text_align="center", text_baseline="middle"))

layout = column(row(pa, pb), row(pc, pr))
open("out.html", "w").write(file_html(layout, INLINE))
